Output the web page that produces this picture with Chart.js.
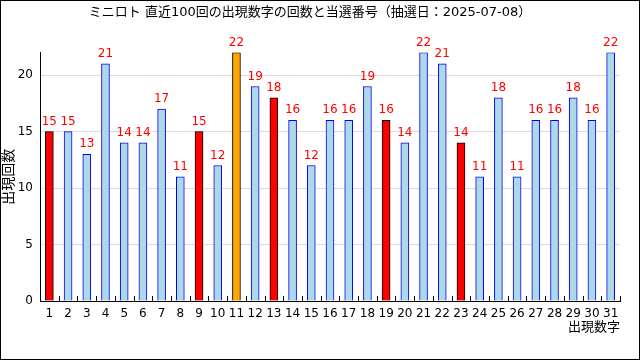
<!DOCTYPE html>
<html>
<head>
<meta charset="utf-8">
<script src="https://cdn.jsdelivr.net/npm/chart.js@4"></script>
<style>
  html, body { margin: 0; padding: 0; background: #fff; }
  #wrap { width: 640px; height: 360px; }
</style>
</head>
<body>
<div id="wrap"><canvas id="lotoChart" width="640" height="360"></canvas></div>
<script>
// Chart data
const numbers = ["1", "2", "3", "4", "5", "6", "7", "8", "9", "10", "11", "12", "13", "14", "15", "16",
  "17", "18", "19", "20", "21", "22", "23", "24", "25", "26", "27", "28", "29", "30", "31"];
const counts = [15, 15, 13, 21, 14, 14, 17, 11, 15, 12, 22, 19, 18, 16, 12, 16,
  16, 19, 16, 14, 22, 21, 14, 11, 18, 11, 16, 16, 18, 16, 22];
const winningNumbers = ["1", "9", "13", "19", "23"];
const bonusNumbers = ["11"];
const yTickValues = [0, 5, 10, 15, 20];

const FONT = "'DejaVu Sans', 'Noto Sans CJK JP', sans-serif";

// Bar colours: red for winning numbers, orange for bonus, light blue otherwise
const fillColors = numbers.map((n) =>
  winningNumbers.includes(n) ? "#ff0000" : bonusNumbers.includes(n) ? "#ffa500" : "#add8e6"
);
const edgeColors = numbers.map((n) =>
  winningNumbers.includes(n) || bonusNumbers.includes(n) ? "#000000" : "#0000ff"
);

// Outer frame around the whole picture
const framePlugin = {
  id: "frame",
  afterDraw(chart) {
    const ctx = chart.ctx;
    ctx.save();
    ctx.strokeStyle = "#000";
    ctx.lineWidth = 1;
    ctx.strokeRect(0.5, 0.5, chart.width - 1, chart.height - 1);
    ctx.restore();
  },
};

// Red value labels above each bar
const valueLabelPlugin = {
  id: "valueLabels",
  afterDatasetsDraw(chart) {
    const ctx = chart.ctx;
    const meta = chart.getDatasetMeta(0);
    ctx.save();
    ctx.fillStyle = "#ff0000";
    ctx.font = "12px " + FONT;
    ctx.textAlign = "center";
    ctx.textBaseline = "bottom";
    meta.data.forEach((bar, i) => {
      ctx.fillText(String(counts[i]), bar.x, bar.y - 4);
    });
    ctx.restore();
  },
};

// Short tick marks pointing up into the plot between categories
const innerTickPlugin = {
  id: "innerTicks",
  afterDraw(chart) {
    const ctx = chart.ctx;
    const xScale = chart.scales.x;
    const bottom = chart.chartArea.bottom;
    ctx.save();
    ctx.strokeStyle = "#000";
    ctx.lineWidth = 1;
    ctx.beginPath();
    for (let i = 0; i <= numbers.length; i++) {
      const px = Math.round(xScale.getPixelForValue(i - 0.5)) + 0.5;
      ctx.moveTo(px, bottom);
      ctx.lineTo(px, bottom - 5);
    }
    ctx.stroke();
    ctx.restore();
  },
};

const ctx = document.getElementById("lotoChart").getContext("2d");
new Chart(ctx, {
  type: "bar",
  data: {
    labels: numbers,
    datasets: [
      {
        data: counts,
        backgroundColor: fillColors,
        borderColor: edgeColors,
        borderWidth: 1,
        barThickness: 8,
      },
    ],
  },
  options: {
    responsive: false,
    animation: false,
    devicePixelRatio: 1,
    layout: {
      padding: { top: 0, right: 20, left: 0, bottom: 25 },
    },
    plugins: {
      legend: { display: false },
      tooltip: { enabled: false },
      title: {
        display: true,
        text: "ミニロト 直近100回の出現数字の回数と当選番号（抽選日：2025-07-08）",
        color: "#000",
        font: { family: FONT, size: 13, weight: "normal" },
        padding: { top: 5, bottom: 32 },
      },
    },
    scales: {
      x: {
        afterFit: (scale) => {
          scale.height = 34;
        },
        grid: { display: false, drawTicks: false },
        border: { display: true, color: "#000" },
        ticks: {
          color: "#000",
          font: { family: FONT, size: 12 },
          padding: 6,
          autoSkip: false,
          maxRotation: 0,
        },
        title: {
          display: true,
          text: "出現数字",
          align: "end",
          color: "#000",
          font: { family: FONT, size: 13 },
          padding: 0,
        },
      },
      y: {
        min: 0,
        max: 22,
        afterFit: (scale) => {
          scale.width = 40;
        },
        afterBuildTicks: (scale) => {
          scale.ticks = yTickValues.map((v) => ({ value: v }));
        },
        grid: { color: "#dddddd", drawTicks: false },
        border: { display: true, color: "#000" },
        ticks: {
          color: "#000",
          font: { family: FONT, size: 12 },
          padding: 7,
        },
        title: {
          display: true,
          text: "出現回数",
          color: "#000",
          font: { family: FONT, size: 14 },
          padding: { top: 1, bottom: 0 },
        },
      },
    },
  },
  plugins: [framePlugin, valueLabelPlugin, innerTickPlugin],
});
</script>
</body>
</html>
